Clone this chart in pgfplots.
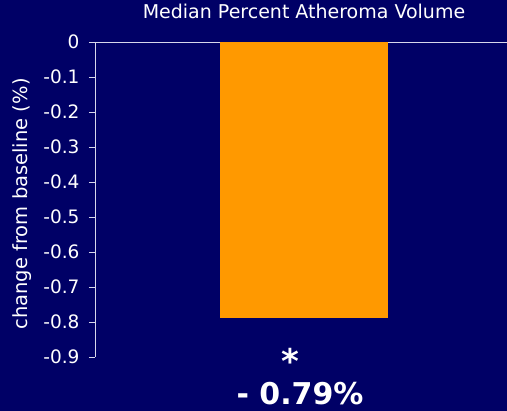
\documentclass[border=0pt]{standalone}
\usepackage{pgfplots}
\pgfplotsset{compat=1.18}
\usepackage{fontspec}
\setmainfont{DejaVu Sans}
\definecolor{navybg}{RGB}{0,0,102}
\definecolor{barorange}{RGB}{255,153,0}
\definecolor{axisgray}{RGB}{215,215,235}
\begin{document}
\begin{tikzpicture}[x=1pt,y=1pt]
  \fill[navybg] (0,0) rectangle (507,411);
  \begin{axis}[
    at={(95pt,54pt)}, anchor=south west,
    scale only axis,
    width=412pt, height=315pt,
    xmin=0, xmax=412,
    ymin=-0.9, ymax=0,
    axis y line*=left,
    axis x line*=top,
    axis line style={axisgray, line width=0.8pt},
    xtick=\empty,
    ytick={0,-0.1,-0.2,-0.3,-0.4,-0.5,-0.6,-0.7,-0.8,-0.9},
    yticklabel style={text=white, font=\fontsize{18.5}{20}\selectfont, xshift=-6pt},
    /pgf/number format/assume math mode=true,
    /pgf/number format/fixed,
    /pgf/number format/precision=1,
    tick style={axisgray, line width=0.8pt},
    major tick length=6pt,
    tick align=outside,
    ylabel={change from baseline (\%)},
    ylabel style={text=white, font=\fontsize{19.5}{22}\selectfont, at={(axis description cs:-0.177,0.486)}, anchor=center},
    title={Median Percent Atheroma Volume},
    title style={text=white, font=\fontsize{19}{22}\selectfont, at={(axis cs:209,0)}, anchor=base, yshift=17pt},
    clip=false,
  ]
    \addplot[ybar, bar width=168, fill=barorange, draw=none] coordinates {(209,-0.79)};
    \node[text=white, font=\bfseries\fontsize{34}{36}\selectfont, anchor=center, inner sep=0pt] at (axis cs:195,-0.9) [yshift=-4pt] {*};
    \node[text=white, font=\bfseries\fontsize{30}{32}\selectfont, anchor=base, inner sep=0pt] at (axis cs:205,-0.9) [yshift=-48pt] {- 0.79\%};
  \end{axis}
  \pgfresetboundingbox
  \useasboundingbox (0,0) rectangle (507,411);
\end{tikzpicture}
\end{document}
